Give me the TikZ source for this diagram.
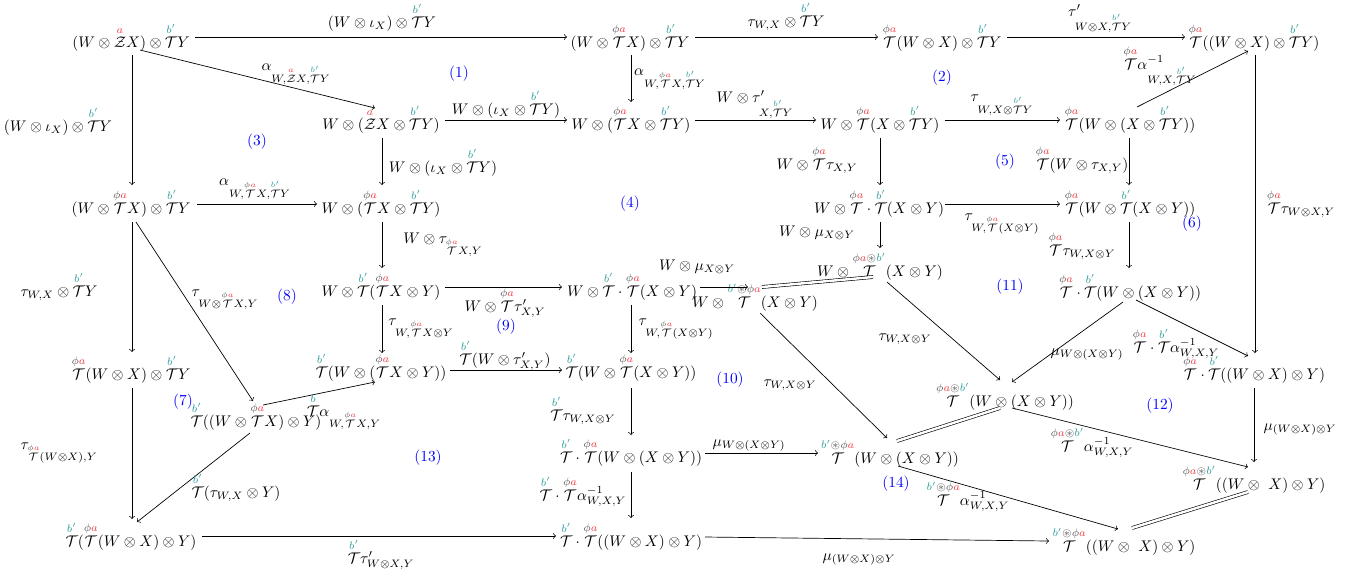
\documentclass[tikz,border=0pt]{standalone}
\usepackage{amsmath,amssymb}
\usepackage{xcolor}
\usetikzlibrary{calc}
\definecolor{rA}{RGB}{245,60,70}
\definecolor{tB}{RGB}{45,155,155}
\definecolor{gP}{RGB}{85,85,85}
\newcommand{\Zsa}{\overset{\textcolor{rA}{a}}{\mathcal{Z}}}
\newcommand{\Tpha}{\overset{\textcolor{gP}{\phi}\textcolor{rA}{a}}{\mathcal{T}}}
\newcommand{\Tbpr}{\overset{\textcolor{tB}{b'}}{\mathcal{T}}}
\newcommand{\Tbbb}{\overset{\textcolor{tB}{b}}{\mathcal{T}}}
\newcommand{\Tpab}{\overset{\textcolor{gP}{\phi}\textcolor{rA}{a}\textcolor{gP}{\circledast}\textcolor{tB}{b'}}{\mathcal{T}}}
\newcommand{\Tbpa}{\overset{\textcolor{tB}{b'}\textcolor{gP}{\circledast\phi}\textcolor{rA}{a}}{\mathcal{T}}}
\tikzset{
  obj/.style={anchor=base, inner sep=0pt},
  lbl/.style={anchor=base, inner sep=0pt},
  reg/.style={text=blue, inner sep=0pt},
  arr/.style={->, line width=0.45pt},
  eqn/.style={double, double distance=1.6pt, line width=0.4pt},
}
\begin{document}
\begin{tikzpicture}[x=0.65pt,y=-0.65pt]
\useasboundingbox (0,0) rectangle (1347,577);
% objects
\node[obj] (N1) at (131,47) {$(W\otimes\Zsa X)\otimes\Tbpr Y$};
\node[obj] (N2) at (630,47) {$(W\otimes\Tpha X)\otimes\Tbpr Y$};
\node[obj] (N3) at (942,47) {$\Tpha(W\otimes X)\otimes\Tbpr Y$};
\node[obj] (N4) at (1254,47) {$\Tpha((W\otimes X)\otimes\Tbpr Y)$};
\node[obj] (N5) at (381,129) {$W\otimes(\Zsa X\otimes\Tbpr Y)$};
\node[obj] (N6) at (631,129) {$W\otimes(\Tpha X\otimes\Tbpr Y)$};
\node[obj] (N7) at (880,129) {$W\otimes\Tpha(X\otimes\Tbpr Y)$};
\node[obj] (N8) at (1130,129) {$\Tpha(W\otimes(X\otimes\Tbpr Y))$};
\node[obj] (N9) at (131,213) {$(W\otimes\Tpha X)\otimes\Tbpr Y$};
\node[obj] (N10) at (381,213) {$W\otimes(\Tpha X\otimes\Tbpr Y)$};
\node[obj] (N11) at (879,213) {$W\otimes\Tpha\cdot\Tbpr(X\otimes Y)$};
\node[obj] (N12) at (1130,213) {$\Tpha(W\otimes\Tbpr(X\otimes Y))$};
\node[obj] (N13) at (381,296) {$W\otimes\Tbpr(\Tpha X\otimes Y)$};
\node[obj] (N14) at (632,296) {$W\otimes\Tbpr\cdot\Tpha(X\otimes Y)$};
\node[obj] (N15) at (880,276) {$W\otimes\Tpab(X\otimes Y)$};
\node[obj] (N16) at (755,307) {$W\otimes\Tbpa(X\otimes Y)$};
\node[obj] (N17) at (1130,297) {$\Tpha\cdot\Tbpr(W\otimes(X\otimes Y))$};
\node[obj] (N18) at (131,379) {$\Tpha(W\otimes X)\otimes\Tbpr Y$};
\node[obj] (N19) at (381,377) {$\Tbpr(W\otimes(\Tpha X\otimes Y))$};
\node[obj] (N20) at (631,377) {$\Tbpr(W\otimes\Tpha(X\otimes Y))$};
\node[obj] (N21) at (1005,406) {$\Tpab(W\otimes(X\otimes Y))$};
\node[obj] (N22) at (1254,379) {$\Tpha\cdot\Tbpr((W\otimes X)\otimes Y)$};
\node[obj] (N23) at (256,426) {$\Tbpr((W\otimes\Tpha X)\otimes Y)$};
\node[obj] (N24) at (631,462) {$\Tbpr\cdot\Tpha(W\otimes(X\otimes Y))$};
\node[obj] (N25) at (890,463) {$\Tbpa(W\otimes(X\otimes Y))$};
\node[obj] (N26) at (1254,489) {$\Tpab((W\otimes\ X)\otimes Y)$};
\node[obj] (N27) at (131,546) {$\Tbpr(\Tpha(W\otimes X)\otimes Y)$};
\node[obj] (N28) at (631,546) {$\Tbpr\cdot\Tpha((W\otimes X)\otimes Y)$};
\node[obj] (N29) at (1124,551) {$\Tbpa((W\otimes\ X)\otimes Y)$};
% arrows
\draw[arr] ($(N1.base)+(64,-10)$) -- ($(N2.base)+(-63,-10)$);
\draw[arr] ($(N2.base)+(65,-10)$) -- ($(N3.base)+(-64,-10)$);
\draw[arr] ($(N3.base)+(65,-10)$) -- ($(N4.base)+(-69,-10)$);
\draw[arr] ($(N1.base)+(9,3)$) -- ($(N5.base)+(-6,-21)$);
\draw[arr] ($(N1.base)+(1,8)$) -- ($(N9.base)+(1,-28)$);
\draw[arr] ($(N2.base)+(1,8)$) -- ($(N6.base)+(0,-27)$);
\draw[arr] ($(N5.base)+(64,-9)$) -- ($(N6.base)+(-64,-9)$);
\draw[arr] ($(N6.base)+(64,-9)$) -- ($(N7.base)+(-64,-9)$);
\draw[arr] ($(N7.base)+(65,-9)$) -- ($(N8.base)+(-70,-9)$);
\draw[arr] ($(N8.base)+(7,-22)$) -- ($(N4.base)+(-6,4)$);
\draw[arr] ($(N4.base)+(1,8)$) -- ($(N22.base)+(1,-26)$);
\draw[arr] ($(N5.base)+(1,9)$) -- ($(N10.base)+(1,-28)$);
\draw[arr] ($(N9.base)+(66,-9)$) -- ($(N10.base)+(-64,-9)$);
\draw[arr] ($(N7.base)+(0,9)$) -- ($(N11.base)+(1,-28)$);
\draw[arr] ($(N8.base)+(-1,9)$) -- ($(N12.base)+(-1,-28)$);
\draw[arr] ($(N11.base)+(66,-9)$) -- ($(N12.base)+(-70,-9)$);
\draw[arr] ($(N10.base)+(1,9)$) -- ($(N13.base)+(1,-28)$);
\draw[arr] ($(N11.base)+(1,9)$) -- ($(N15.base)+(0,-28)$);
\draw[arr] ($(N12.base)+(-1,9)$) -- ($(N17.base)+(-1,-29)$);
\draw[arr] ($(N9.base)+(1,9)$) -- ($(N18.base)+(1,-27)$);
\draw[arr] ($(N9.base)+(5,9)$) -- ($(N23.base)+(-3,-25)$);
\draw[arr] ($(N13.base)+(64,-9)$) -- ($(N14.base)+(-70,-9)$);
\draw[arr] ($(N13.base)+(1,9)$) -- ($(N19.base)+(1,-24)$);
\draw[arr] ($(N14.base)+(68,-9)$) -- ($(N16.base)+(-7,-20)$);
\draw[eqn] ($(N16.base)+(7,-20)$) -- ($(N15.base)+(-7,1)$);
\draw[arr] ($(N14.base)+(-1,9)$) -- ($(N20.base)+(0,-24)$);
\draw[arr] ($(N15.base)+(7,6)$) -- ($(N21.base)+(-5,-26)$);
\draw[arr] ($(N16.base)+(5,6)$) -- ($(N25.base)+(-3,-25)$);
\draw[arr] ($(N17.base)+(-7,5)$) -- ($(N21.base)+(7,-24)$);
\draw[arr] ($(N17.base)+(6,3)$) -- ($(N22.base)+(-6,-23)$);
\draw[arr] ($(N18.base)+(1,9)$) -- ($(N27.base)+(1,-27)$);
\draw[arr] ($(N19.base)+(69,-7)$) -- ($(N20.base)+(-69,-7)$);
\draw[arr] ($(N23.base)+(7,-21)$) -- ($(N19.base)+(-6,5)$);
\draw[arr] ($(N23.base)+(-6,7)$) -- ($(N27.base)+(6,-24)$);
\draw[arr] ($(N20.base)+(0,11)$) -- ($(N24.base)+(0,-27)$);
\draw[arr] ($(N24.base)+(74,-9)$) -- ($(N25.base)+(-72,-10)$);
\draw[arr] ($(N24.base)+(0,10)$) -- ($(N28.base)+(0,-28)$);
\draw[arr] ($(N27.base)+(71,-10)$) -- ($(N28.base)+(-75,-10)$);
\draw[arr] ($(N28.base)+(74,-9)$) -- ($(N29.base)+(-75,-10)$);
\draw[eqn] ($(N25.base)+(7,-22)$) -- ($(N21.base)+(-5,2)$);
\draw[arr] ($(N25.base)+(8,3)$) -- ($(N29.base)+(-6,-22)$);
\draw[arr] ($(N21.base)+(7,2)$) -- ($(N26.base)+(-6,-22)$);
\draw[arr] ($(N22.base)+(0,9)$) -- ($(N26.base)+(0,-27)$);
\draw[eqn] ($(N26.base)+(-6,3)$) -- ($(N29.base)+(8,-23)$);
% labels
\node[lbl] (L1) at (382,27) {$(W\otimes\iota_X)\otimes\Tbpr Y$};
\node[lbl] (L2) at (786,26) {$\tau_{W,X}\otimes\Tbpr Y$};
\node[lbl] (L3) at (1100,16) {$\tau'_{W\otimes X,\Tbpr Y}$};
\node[lbl] (L4) at (296,70) {$\alpha_{W,\Zsa X,\Tbpr Y}$};
\node[lbl] (L5) at (58,131) {$(W\otimes\iota_X)\otimes\Tbpr Y$};
\node[lbl] (L6) at (670,75) {$\alpha_{W,\Tpha X,\Tbpr Y}$};
\node[lbl] (L7) at (506,114) {$W\otimes(\iota_X\otimes\Tbpr Y)$};
\node[lbl] (L8) at (755,102) {$W\otimes\tau'_{X,\Tbpr Y}$};
\node[lbl] (L9) at (1002,101) {$\tau_{W,X\otimes\Tbpr Y}$};
\node[lbl] (L10) at (1160,69) {$\Tpha\alpha^{-1}_{W,X,\Tbpr Y}$};
\node[lbl] (L11) at (1301,213) {$\Tpha\tau_{W\otimes X,Y}$};
\node[lbl] (L12) at (443,172) {$W\otimes(\iota_X\otimes\Tbpr Y)$};
\node[lbl] (L13) at (255,185) {$\alpha_{W,\Tpha X,\Tbpr Y}$};
\node[lbl] (L14) at (817,169) {$W\otimes\Tpha\tau_{X,Y}$};
\node[lbl] (L15) at (1082,169) {$\Tpha(W\otimes\tau_{X,Y})$};
\node[lbl] (L16) at (1002,220) {$\tau_{W,\Tpha(X\otimes Y)}$};
\node[lbl] (L17) at (443,243) {$W\otimes\tau_{\Tpha X,Y}$};
\node[lbl] (L18) at (817,236) {$W\otimes\mu_{X\otimes Y}$};
\node[lbl] (L19) at (1082,255) {$\Tpha\tau_{W,X\otimes Y}$};
\node[lbl] (L20) at (59,296) {$\tau_{W,X}\otimes\Tbpr Y$};
\node[lbl] (L21) at (225,296) {$\tau_{W\otimes\Tpha X,Y}$};
\node[lbl] (L22) at (697,270) {$W\otimes\mu_{X\otimes Y}$};
\node[lbl] (L23) at (505,311) {$W\otimes\Tpha\tau'_{X,Y}$};
\node[lbl] (L24) at (421,325) {$\tau_{W,\Tpha X\otimes Y}$};
\node[lbl] (L25) at (676,325) {$\tau_{W,\Tpha(X\otimes Y)}$};
\node[lbl] (L26) at (505,364) {$\Tbpr(W\otimes\tau'_{X,Y})$};
\node[lbl] (L27) at (905,340) {$\tau_{W,X\otimes Y}$};
\node[lbl] (L28) at (790,386) {$\tau_{W,X\otimes Y}$};
\node[lbl] (L29) at (1087,355) {$\mu_{W\otimes(X\otimes Y)}$};
\node[lbl] (L30) at (1176,352) {$\Tpha\cdot\Tbpr\alpha^{-1}_{W,X,Y}$};
\node[lbl] (L31) at (59,449) {$\tau_{\Tpha(W\otimes X),Y}$};
\node[lbl] (L32) at (236,497) {$\Tbpr(\tau_{W,X}\otimes Y)$};
\node[lbl] (L33) at (344,416) {$\Tbbb\alpha_{W,\Tpha X,Y}$};
\node[lbl] (L34) at (583,420) {$\Tbpr\tau_{W,X\otimes Y}$};
\node[lbl] (L35) at (749,446) {$\mu_{W\otimes(X\otimes Y)}$};
\node[lbl] (L36) at (583,500) {$\Tbpr\cdot\Tpha\alpha^{-1}_{W,X,Y}$};
\node[lbl] (L37) at (381,563) {$\Tbpr\tau'_{W\otimes X,Y}$};
\node[lbl] (L38) at (859,560) {$\mu_{(W\otimes X)\otimes Y}$};
\node[lbl] (L39) at (968,505) {$\Tbpa\alpha^{-1}_{W,X,Y}$};
\node[lbl] (L40) at (1092,451) {$\Tpab\alpha^{-1}_{W,X,Y}$};
\node[lbl] (L41) at (1300,430) {$\mu_{(W\otimes X)\otimes Y}$};
% regions
\node[reg] (R1) at (459,74) {(1)};
\node[reg] (R2) at (942,78) {(2)};
\node[reg] (R3) at (257,142) {(3)};
\node[reg] (R4) at (630,204) {(4)};
\node[reg] (R5) at (1005,162) {(5)};
\node[reg] (R6) at (1192,224) {(6)};
\node[reg] (R7) at (183,402) {(7)};
\node[reg] (R8) at (287,297) {(8)};
\node[reg] (R9) at (506,327) {(9)};
\node[reg] (R10) at (730,380) {(10)};
\node[reg] (R11) at (1010,287) {(11)};
\node[reg] (R12) at (1160,406) {(12)};
\node[reg] (R13) at (428,458) {(13)};
\node[reg] (R14) at (896,484) {(14)};
\end{tikzpicture}
\end{document}
